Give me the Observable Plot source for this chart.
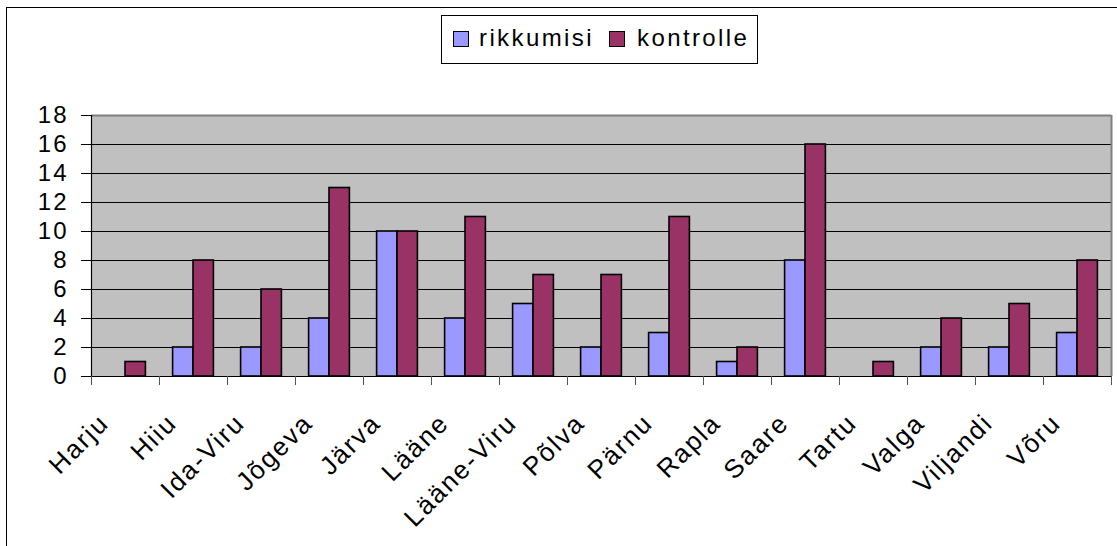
<!DOCTYPE html>
<html><head><meta charset="utf-8">
<script src="https://cdn.jsdelivr.net/npm/d3@7"></script>
<script src="https://cdn.jsdelivr.net/npm/@observablehq/plot@0.6"></script>
<style>
body{margin:0;background:#fff;font-family:Arial,"Liberation Sans",sans-serif}
#wrap{position:relative;width:1117px;height:546px;overflow:hidden}
#border{position:absolute;left:6px;top:7px;width:1300px;height:800px;border:1.5px solid #000}
#chart{position:absolute;left:0;top:0}
#legend{position:absolute;left:441px;top:15px;width:317px;height:49px;border:1px solid #000;background:#fff;box-sizing:border-box}
.sw{position:absolute;top:15px;width:16px;height:16px;border:1.5px solid #000;box-sizing:border-box}
.lt{position:absolute;top:8px;font-size:24px;letter-spacing:2.4px;color:#000;line-height:28px}
svg text{letter-spacing:2px}
</style></head>
<body>
<div id="wrap">
  <div id="border"></div>
  <div id="chart"></div>
  <div id="legend"></div>
</div>
<script>
const regions = ["Harju","Hiiu","Ida-Viru","Jõgeva","Järva","Lääne","Lääne-Viru","Põlva","Pärnu","Rapla","Saare","Tartu","Valga","Viljandi","Võru"];
const rikkumisi = [0,2,2,4,10,4,5,2,3,1,8,0,2,2,3];
const kontrolle = [1,8,6,13,10,11,7,7,11,2,16,1,4,5,8];
const seriesNames = ["rikkumisi","kontrolle"];
const seriesColors = ["#9999FF","#993366"];
const yTicks = [0,2,4,6,8,10,12,14,16,18];

const rows = [];
regions.forEach((r,i)=>{
  rows.push({i, region:r, series:"rikkumisi", value:rikkumisi[i], x1:i+0.2, x2:i+0.5});
  rows.push({i, region:r, series:"kontrolle", value:kontrolle[i], x1:i+0.5, x2:i+0.8});
});
const bars = rows.filter(d=>d.value>0);

const plot = Plot.plot({
  width:1117, height:546,
  marginTop:115, marginBottom:170, marginLeft:91, marginRight:6,
  style:{fontFamily:"Arial, 'Liberation Sans', sans-serif", background:"transparent", color:"#000"},
  x:{type:"linear", domain:[0,regions.length]},
  y:{domain:[0,18]},
  color:{domain:seriesNames, range:seriesColors},
  marks:[
    Plot.rect([0],{x1:0,x2:regions.length,y1:0,y2:18,fill:"#C0C0C0"}),
    Plot.ruleY(yTicks.filter(t=>t>0 && t<18),{stroke:"#000",strokeWidth:1}),
    Plot.ruleY([18],{stroke:"#808080",strokeWidth:2}),
    Plot.ruleX([regions.length],{y1:0,y2:18,stroke:"#808080",strokeWidth:2}),
    Plot.rectY(bars,{x1:"x1",x2:"x2",y1:0,y2:"value",fill:"series",stroke:"#000",strokeWidth:1.6}),
    Plot.ruleY([0],{stroke:"#000",strokeWidth:1.2}),
    Plot.ruleX([0],{y1:0,y2:18,stroke:"#000",strokeWidth:1.2}),
    Plot.axisY({ticks:yTicks,tickSize:10,tickPadding:13,fontSize:24,tickFormat:d=>String(d),label:null}),
    Plot.axisX({ticks:d3.range(regions.length+1),tickSize:9,tickFormat:()=>"",stroke:"#555",label:null}),
    Plot.axisX({ticks:d3.range(regions.length).map(i=>i+0.5),tickSize:0,tickPadding:0,tickRotate:-45,fontSize:26,
      textAnchor:"end",lineAnchor:"bottom",
      tickFormat:v=>regions[Math.floor(v)],dx:-15,dy:48,label:null})
  ]
});
document.getElementById("chart").appendChild(plot);

const lg = document.getElementById("legend");
const legendPos = [[11,37],[167,195]];
seriesNames.forEach((s,k)=>{
  const sw=document.createElement("div");sw.className="sw";sw.style.left=legendPos[k][0]+"px";sw.style.background=seriesColors[k];lg.appendChild(sw);
  const t=document.createElement("div");t.className="lt";t.style.left=legendPos[k][1]+"px";t.textContent=s;lg.appendChild(t);
});
</script>
</body></html>
